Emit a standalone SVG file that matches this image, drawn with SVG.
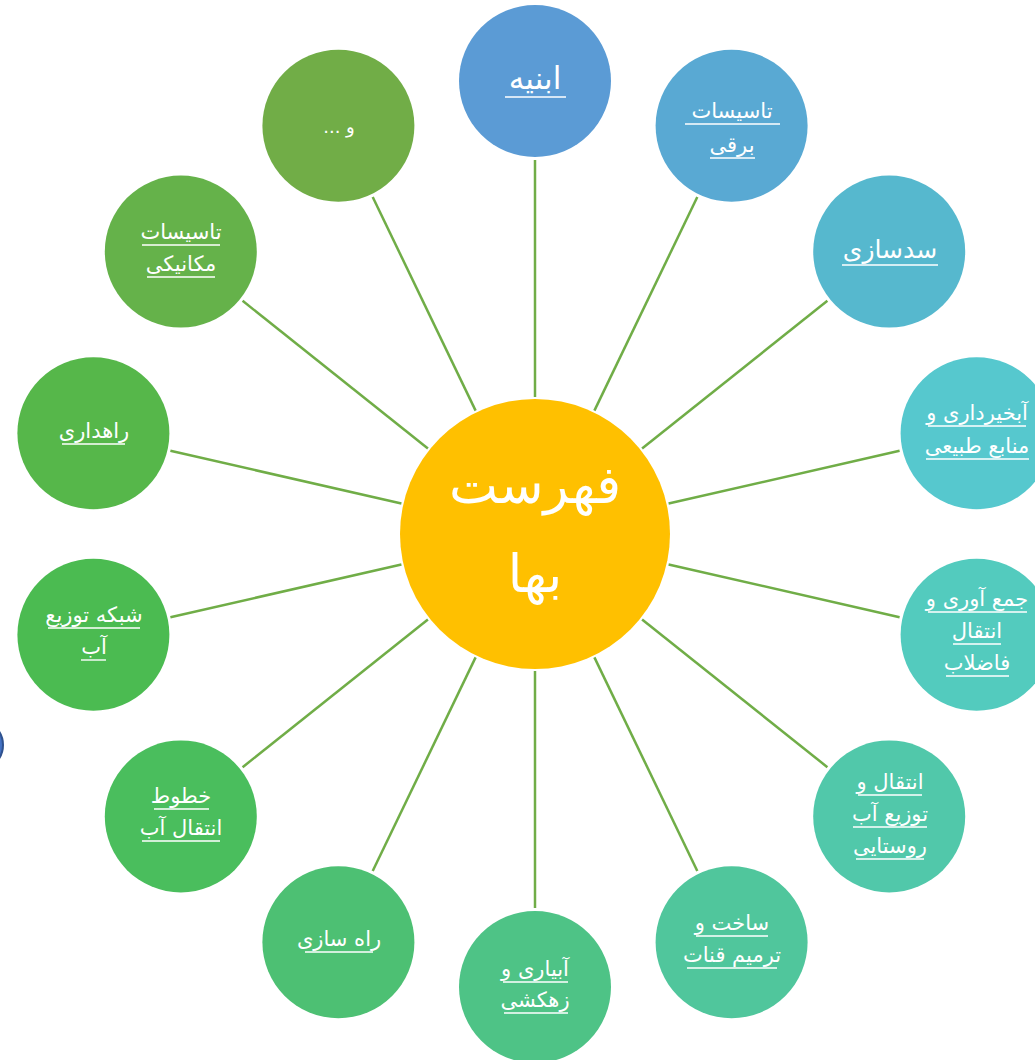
<svg xmlns="http://www.w3.org/2000/svg" width="1035" height="1060" viewBox="0 0 1035 1060">
<style>
.lbl{font-family:"DejaVu Sans","Noto Sans",sans-serif;fill:#fff;text-anchor:middle;direction:rtl;font-size:21px}
.big{font-size:31px}
.mid{font-size:25px}
.ctr{font-family:"DejaVu Sans","Noto Sans",sans-serif;fill:#fff;text-anchor:middle;direction:rtl;font-size:52px}
.ul{stroke:#fff;stroke-width:1.4}
.conn line{stroke:#70AD47;stroke-width:2.5}
</style>
<rect width="1035" height="1060" fill="#fff"/>
<g id="connectors" class="conn">
<line x1="535" y1="397" x2="535" y2="160"/>
<line x1="594.4" y1="410.6" x2="697.3" y2="197"/>
<line x1="642.1" y1="448.6" x2="827.4" y2="300.8"/>
<line x1="668.6" y1="503.5" x2="899.6" y2="450.8"/>
<line x1="668.6" y1="564.5" x2="899.6" y2="617.2"/>
<line x1="642.1" y1="619.4" x2="827.4" y2="767.2"/>
<line x1="594.4" y1="657.4" x2="697.3" y2="871"/>
<line x1="535" y1="671" x2="535" y2="908"/>
<line x1="475.6" y1="657.4" x2="372.7" y2="871"/>
<line x1="427.9" y1="619.4" x2="242.6" y2="767.2"/>
<line x1="401.4" y1="564.5" x2="170.4" y2="617.2"/>
<line x1="401.4" y1="503.5" x2="170.4" y2="450.8"/>
<line x1="427.9" y1="448.6" x2="242.6" y2="300.8"/>
<line x1="475.6" y1="410.6" x2="372.7" y2="197"/>
</g>
<g id="edge-shape"><circle cx="-22" cy="745" r="25" fill="#4472C4" stroke="#2F528F" stroke-width="2"/></g>
<g id="center"><circle cx="535" cy="534" r="135" fill="#FFC000"/>
<text class="ctr" x="535" y="503">فهرست</text>
<text class="ctr" x="535" y="592">بها</text></g>
<g id="n0"><circle cx="535" cy="81" r="76" fill="#5B9BD5"/><text class="lbl big" x="535" y="89">ابنیه</text><line class="ul" x1="505" y1="97" x2="566" y2="97"/></g>
<g id="n1"><circle cx="731.6" cy="125.8" r="76" fill="#59A9D3"/><text class="lbl" x="732" y="118">تاسیسات</text><text class="lbl" x="732" y="152">برقی</text><line class="ul" x1="685" y1="124" x2="780" y2="124"/><line class="ul" x1="710" y1="158" x2="755" y2="158"/></g>
<g id="n2"><circle cx="889.2" cy="251.6" r="76" fill="#56B8CE"/><text class="lbl mid" x="890" y="258">سدسازی</text><line class="ul" x1="842" y1="265" x2="938" y2="265"/></g>
<g id="n3"><circle cx="976.6" cy="433.2" r="76" fill="#56C8CE"/><text class="lbl" x="977" y="420">آبخیرداری و</text><text class="lbl" x="977" y="453">منابع طبیعی</text><line class="ul" x1="928" y1="426" x2="1026" y2="426"/><line class="ul" x1="926" y1="459" x2="1029" y2="459"/></g>
<g id="n4"><circle cx="976.6" cy="634.8" r="76" fill="#53CBBE"/><text class="lbl" x="977" y="606">جمع آوری و</text><text class="lbl" x="977" y="638">انتقال</text><text class="lbl" x="977" y="670">فاضلاب</text><line class="ul" x1="928" y1="612" x2="1027" y2="612"/><line class="ul" x1="953" y1="644" x2="1001" y2="644"/><line class="ul" x1="946" y1="676" x2="1009" y2="676"/></g>
<g id="n5"><circle cx="889.2" cy="816.4" r="76" fill="#51C8AA"/><text class="lbl" x="890" y="789">انتقال و</text><text class="lbl" x="890" y="821">توزیع آب</text><text class="lbl" x="890" y="853">روستایی</text><line class="ul" x1="858" y1="795" x2="922" y2="795"/><line class="ul" x1="853" y1="827" x2="927" y2="827"/><line class="ul" x1="856" y1="859" x2="924" y2="859"/></g>
<g id="n6"><circle cx="731.6" cy="942.2" r="76" fill="#50C69C"/><text class="lbl" x="732" y="930">ساخت و</text><text class="lbl" x="732" y="962">ترمیم قنات</text><line class="ul" x1="696" y1="936" x2="768" y2="936"/><line class="ul" x1="687" y1="968" x2="777" y2="968"/></g>
<g id="n7"><circle cx="535" cy="987" r="76" fill="#4EC386"/><text class="lbl" x="535" y="976">آبیاری و</text><text class="lbl" x="535" y="1007">زهکشی</text><line class="ul" x1="503" y1="982" x2="568" y2="982"/><line class="ul" x1="504" y1="1013" x2="568" y2="1013"/></g>
<g id="n8"><circle cx="338.4" cy="942.2" r="76" fill="#4DC073"/><text class="lbl" x="339" y="946">راه سازی</text><line class="ul" x1="305" y1="952" x2="373" y2="952"/></g>
<g id="n9"><circle cx="180.8" cy="816.4" r="76" fill="#4ABE5D"/><text class="lbl" x="181" y="803">خطوط</text><text class="lbl" x="181" y="835">انتقال آب</text><line class="ul" x1="154" y1="809" x2="209" y2="809"/><line class="ul" x1="142" y1="841" x2="220" y2="841"/></g>
<g id="n10"><circle cx="93.4" cy="634.8" r="76" fill="#4BBB51"/><text class="lbl" x="94" y="622">شبکه توزیع</text><text class="lbl" x="94" y="654">آب</text><line class="ul" x1="48" y1="628" x2="140" y2="628"/><line class="ul" x1="81" y1="660" x2="106" y2="660"/></g>
<g id="n11"><circle cx="93.4" cy="433.2" r="76" fill="#56B74A"/><text class="lbl" x="94" y="438">راهداری</text><line class="ul" x1="62" y1="444" x2="125" y2="444"/></g>
<g id="n12"><circle cx="180.8" cy="251.6" r="76" fill="#65B24A"/><text class="lbl" x="181" y="239">تاسیسات</text><text class="lbl" x="181" y="271">مکانیکی</text><line class="ul" x1="142" y1="245" x2="220" y2="245"/><line class="ul" x1="147" y1="277" x2="215" y2="277"/></g>
<g id="n13"><circle cx="338.4" cy="125.8" r="76" fill="#71AD47"/><text class="lbl" x="339" y="133" style="font-size:18px">و ...</text></g>
</svg>
